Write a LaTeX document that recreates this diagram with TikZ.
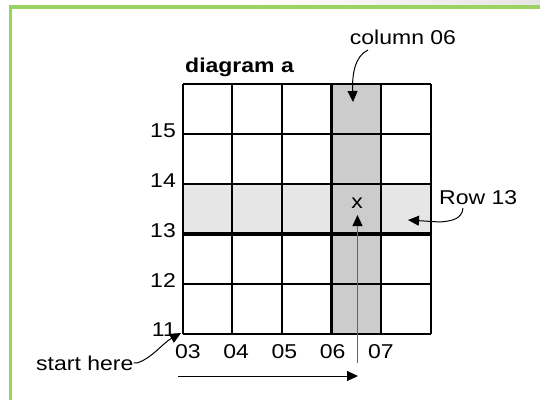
\documentclass[tikz,border=0pt]{standalone}
\usepackage{fontspec}
\setmainfont{Liberation Sans}[FakeStretch=1.15]
\usetikzlibrary{positioning,arrows.meta}
\definecolor{Leaf}{RGB}{155,211,98}
\definecolor{ColFill}{RGB}{204,204,204}
\definecolor{RowFill}{RGB}{230,230,230}
\begin{document}
\begin{tikzpicture}[x=1pt,y=-1pt,
 t/.style={font=\fontsize{20}{22}\selectfont,inner sep=0pt},
 a/.style={-{Triangle[length=11pt,width=10pt,color=black]},line width=1pt}]
\useasboundingbox (0,0) rectangle (540,400);
% frame
\shade[left color=white,right color=black!10] (250,0) rectangle (540,5);
\fill[Leaf] (9,5) rectangle (540,8.5);
\fill[Leaf] (8.5,5) rectangle (12,400);
% shaded row and column
\fill[RowFill] (182.7,184) rectangle (430.7,233.6);
\fill[ColFill] (331.5,84.4) rectangle (381.1,334);
% grid
\foreach \i in {0,...,5}{
  \draw[line width=1.9pt] ({182.7+49.6*\i},84.4) -- ({182.7+49.6*\i},334);
  \draw[line width=1.9pt] (182.7,{84.4+49.9*\i}) -- (430.7,{84.4+49.9*\i});
}
\draw[line width=2.6pt] (331.5,84.4) -- (331.5,334) (381.1,84.4) -- (381.1,334);
\draw[line width=3.4pt] (182.7,234.1) -- (430.7,234.1);
% numbers
\foreach \rw [count=\j] in {15,14,13,12,11}
  \node[t,anchor=base east] (r\rw) at (176,{84.4+49.9*\j+3}) {\rw};
\foreach \cl [count=\j from 0] in {03,04,05,06,07}
  \node[t,anchor=base] (c\cl) at ({188+48.2*\j},358) {\cl};
% labels
\node[t,anchor=base west,font=\fontsize{20}{22}\selectfont\bfseries] (title) at (185,72) {diagram a};
\node[t,anchor=base] (colnote) at (403,44) {column 06};
\node[t,anchor=base west] (rownote) at (439,204) {Row 13};
\node[t,anchor=base west] (start) at (36,370) {start here};
\node[t] (mark) at (357,203) {x};
% connectors
\coordinate (colhook) at (368,50);
\coordinate (coltip) at (353,102);
\coordinate (rowhook) at (463,208);
\coordinate (rowtip) at (408,220);
\coordinate (corner) at (181,333);
\coordinate (upfoot) at (357.5,363);
\coordinate (uptip) at (357.5,215);
\coordinate (go0) at (178,376);
\coordinate (go1) at (358,376);
\draw[a] (colhook) .. controls (355,56) and (352,74) .. (coltip);
\draw[a] (rowhook) .. controls (462,219) and (452,221) .. (440,222) -- (rowtip);
\draw[a] (start.east) -- ++(4,0) .. controls (152,358) and (163,343) .. (corner);
\draw[a,black!60] (upfoot) -- (uptip);
\draw[a] (go0) -- (go1);
\end{tikzpicture}
\end{document}
